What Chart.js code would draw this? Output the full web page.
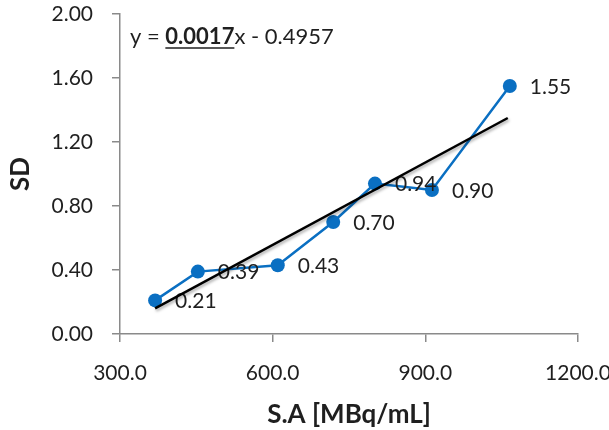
<!DOCTYPE html>
<html>
<head>
<meta charset="utf-8">
<script src="https://cdn.jsdelivr.net/npm/chart.js@4/dist/chart.umd.min.js"></script>
<style>
  html, body { margin: 0; padding: 0; background: #ffffff; }
  #wrap { width: 609px; height: 430px; position: relative; }
</style>
</head>
<body>
<div id="wrap"><canvas id="c" width="609" height="430"></canvas></div>
<script>
// ---- data ----
const saValues = [369, 453, 610, 719, 801, 913, 1066];      // S.A [MBq/mL]
const sdValues = [0.21, 0.39, 0.43, 0.70, 0.94, 0.90, 1.55]; // SD
const pointLabels = ['0.21', '0.39', '0.43', '0.70', '0.94', '0.90', '1.55'];
const trendX = [369, 1062];
const trendY = [0.16, 1.35];
const xTickValues = [300, 600, 900, 1200];
const yTickValues = [0, 0.4, 0.8, 1.2, 1.6, 2.0];
const eqParts = ['y = ', '0.0017', 'x - 0.4957'];
const xTitle = 'S.A [MBq/mL]';
const yTitle = 'SD';

const FONT = 'Lato, "Open Sans", sans-serif';
const TEXT = '#1f1f1f';
const AXIS = '#8a8a8a';
const BLUE = '#0a6fc2';

const seriesPts = saValues.map((x, i) => ({ x: x, y: sdValues[i] }));
const trendPts = trendX.map((x, i) => ({ x: x, y: trendY[i] }));

const labelPlugin = {
  id: 'labels',
  beforeDatasetDraw(chart, args) {
    if (args.index === 0) {
      const ctx = chart.ctx;
      ctx.save();
      ctx.shadowColor = 'rgba(0,0,0,0.35)';
      ctx.shadowBlur = 3;
      ctx.shadowOffsetX = 1;
      ctx.shadowOffsetY = 2;
    }
  },
  afterDatasetDraw(chart, args) {
    const ctx = chart.ctx;
    if (args.index === 0) { ctx.restore(); return; }
    if (args.index !== 1) return;
    const meta = chart.getDatasetMeta(1);
    ctx.save();
    ctx.font = '21px ' + FONT;
    ctx.fillStyle = TEXT;
    ctx.textAlign = 'left';
    ctx.textBaseline = 'middle';
    meta.data.forEach((el, i) => {
      ctx.fillText(pointLabels[i], el.x + 20, el.y + 1);
    });
    ctx.restore();
  },
  afterDraw(chart) {
    const ctx = chart.ctx;
    ctx.save();
    ctx.fillStyle = TEXT;
    ctx.strokeStyle = TEXT;
    ctx.textBaseline = 'middle';
    ctx.textAlign = 'left';
    let x = 130;
    const y = 37;
    ctx.font = '22px ' + FONT;
    ctx.fillText(eqParts[0], x, y);
    x += ctx.measureText(eqParts[0]).width;
    ctx.font = 'bold 22px ' + FONT;
    ctx.fillText(eqParts[1], x, y);
    const w = ctx.measureText(eqParts[1]).width;
    ctx.lineWidth = 1.5;
    ctx.beginPath();
    ctx.moveTo(x, 48);
    ctx.lineTo(x + w, 48);
    ctx.stroke();
    x += w;
    ctx.font = '22px ' + FONT;
    ctx.fillText(eqParts[2], x, y);
    ctx.restore();
  }
};

new Chart(document.getElementById('c'), {
  type: 'scatter',
  data: {
    datasets: [
      {
        label: 'Linear trend',
        data: trendPts,
        showLine: true,
        borderColor: '#000000',
        borderWidth: 2.5,
        pointRadius: 0,
        fill: false
      },
      {
        label: 'SD',
        data: seriesPts,
        showLine: true,
        borderColor: BLUE,
        backgroundColor: BLUE,
        borderWidth: 2.5,
        pointRadius: 7,
        pointBorderWidth: 0,
        fill: false
      }
    ]
  },
  options: {
    responsive: false,
    animation: false,
    events: [],
    layout: { padding: { top: 14, right: 31, left: 0, bottom: 0 } },
    plugins: { legend: { display: false }, tooltip: { enabled: false } },
    scales: {
      x: {
        type: 'linear',
        min: 300, max: 1200,
        afterFit(s) { s.height = 96; s.paddingLeft = 0; s.paddingRight = 0; },
        afterBuildTicks(s) { s.ticks = xTickValues.map(v => ({ value: v })); },
        ticks: {
          font: { family: FONT, size: 21 },
          color: TEXT,
          padding: 19,
          maxRotation: 0,
          callback: v => Number(v).toFixed(1)
        },
        grid: { display: true, drawOnChartArea: false, drawTicks: true, tickLength: 8, color: AXIS, lineWidth: 1.5 },
        border: { display: true, color: AXIS, width: 1.5 },
        title: {
          display: true, text: xTitle, color: TEXT,
          font: { family: FONT, size: 26, weight: 'bold' },
          padding: { top: 0, bottom: 0 }
        }
      },
      y: {
        type: 'linear',
        min: 0, max: 2,
        afterFit(s) { s.width = 120; s.paddingTop = 0; s.paddingBottom = 0; },
        afterBuildTicks(s) { s.ticks = yTickValues.map(v => ({ value: v })); },
        ticks: {
          font: { family: FONT, size: 21 },
          color: TEXT,
          padding: 19,
          callback: v => Number(v).toFixed(2)
        },
        grid: { display: true, drawOnChartArea: false, drawTicks: true, tickLength: 8, color: AXIS, lineWidth: 1.5 },
        border: { display: true, color: AXIS, width: 1.5 },
        title: {
          display: true, text: yTitle, color: TEXT,
          font: { family: FONT, size: 26, weight: 'bold' },
          padding: { top: 5, bottom: 0 }
        }
      }
    }
  },
  plugins: [labelPlugin]
});
</script>
</body>
</html>
